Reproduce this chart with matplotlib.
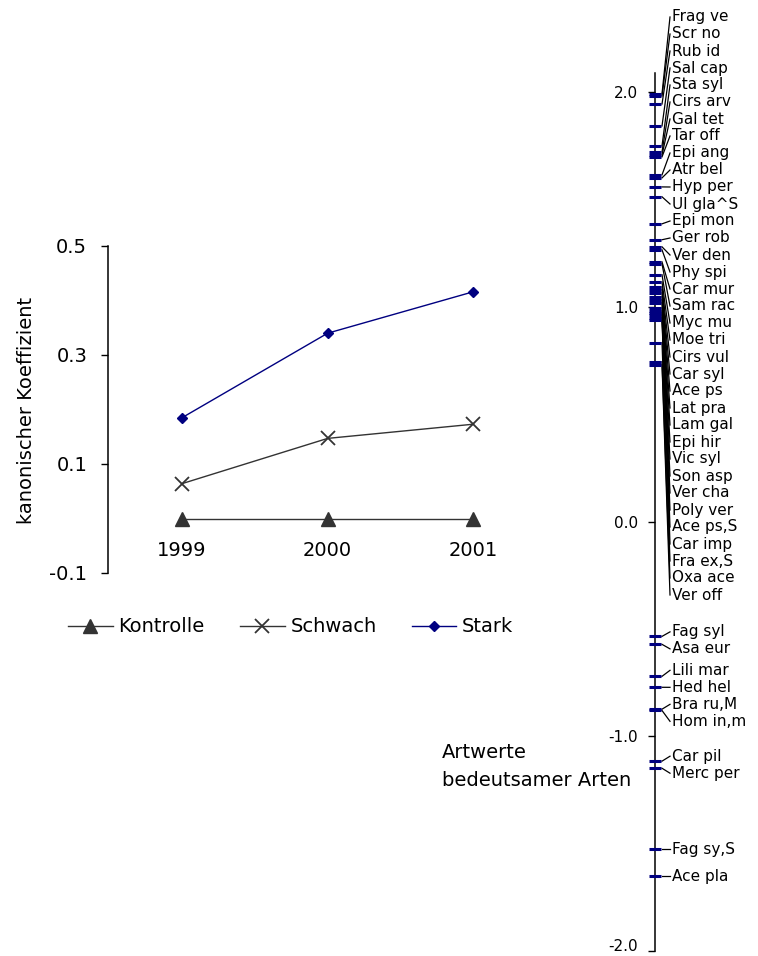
import numpy as np
import matplotlib
matplotlib.use('Agg')
import matplotlib.pyplot as plt
from matplotlib.transforms import ScaledTranslation

# ---------------- data ----------------
years = ['1999', '2000', '2001']
kontrolle = [0.0, 0.0, 0.0]
schwach = [0.064, 0.147, 0.173]
stark = [0.185, 0.340, 0.416]

left_yticks = [0.5, 0.3, 0.1, -0.1]
left_yticklabels = ['0.5', '0.3', '0.1', '-0.1']

species = ['Frag ve', 'Scr no', 'Rub id', 'Sal cap', 'Sta syl', 'Cirs arv', 'Gal tet',
           'Tar off', 'Epi ang', 'Atr bel', 'Hyp per', 'Ul gla^S', 'Epi mon', 'Ger rob',
           'Ver den', 'Phy spi', 'Car mur', 'Sam rac', 'Myc mu', 'Moe tri', 'Cirs vul',
           'Car syl', 'Ace ps', 'Lat pra', 'Lam gal', 'Epi hir', 'Vic syl', 'Son asp',
           'Ver cha', 'Poly ver', 'Ace ps,S', 'Car imp', 'Fra ex,S', 'Oxa ace', 'Ver off',
           'Fag syl', 'Asa eur', 'Lili mar', 'Hed hel', 'Bra ru,M', 'Hom in,m',
           'Car pil', 'Merc per', 'Fag sy,S', 'Ace pla']
scores = [1.991, 1.981, 1.944, 1.842, 1.749, 1.721, 1.707, 1.698, 1.614, 1.600,
          1.558, 1.512, 1.386, 1.312, 1.279, 1.265, 1.209, 1.200, 1.149, 1.116,
          1.093, 1.079, 1.065, 1.047, 1.033, 1.019, 0.995, 0.981, 0.972, 0.963,
          0.949, 0.940, 0.833, 0.744, 0.730,
          -0.535, -0.572, -0.721, -0.772, -0.874, -0.880,
          -1.116, -1.149, -1.526, -1.651]

right_yticks = [2.0, 1.0, 0.0, -1.0, -2.0]
right_yticklabels = ['2.0', '1.0', '0.0', '-1.0', '-2.0']

# ---------------- figure ----------------
plt.rcParams['font.family'] = ['DejaVu Sans']
W, H = 758, 956
fig = plt.figure(figsize=(W / 100, H / 100), dpi=100)


def fx(px):
    return px / W


def fy(py):
    return 1 - py / H


GRAY = '#333333'
NAVY = '#000080'

# left panel
ax = fig.add_axes([fx(108), fy(573), fx(546) - fx(108), fy(246) - fy(573)])
x = np.arange(len(years))
ax.plot(x, kontrolle, color=GRAY, lw=1.0, marker='^', ms=9.5, label='Kontrolle', clip_on=False)
ax.plot(x, schwach, color=GRAY, lw=1.0, marker='x', ms=9.5, mew=1.3, label='Schwach', clip_on=False)
ax.plot(x, stark, color=NAVY, lw=1.0, marker='D', ms=5.5, label='Stark', clip_on=False)
ax.set_xlim(-0.509, 2.5)
ax.set_ylim(-0.1, 0.5)
ax.set_yticks(left_yticks)
ax.set_yticklabels(left_yticklabels)
ax.tick_params(axis='y', direction='out', length=5, width=1.0, pad=10, labelsize=14)
for s in ['top', 'right']:
    ax.spines[s].set_visible(False)
ax.spines['left'].set_linewidth(1.1)
ax.spines['bottom'].set_position(('data', 0))
ax.spines['bottom'].set_color('none')
ax.set_xticks(x)
ax.set_xticklabels(years)
ax.tick_params(axis='x', length=0, pad=16.5, labelsize=14)
ax.patch.set_visible(False)

fig.text(fx(27), fy(410), 'kanonischer Koeffizient', rotation=90, ha='center', va='center',
         fontsize=14)

fig.legend(loc='center left', bbox_to_anchor=(fx(68), fy(627)), ncol=3, frameon=False,
           fontsize=14, handlelength=2.3, handletextpad=0.3, columnspacing=1.8,
           borderpad=0, borderaxespad=0)

fig.text(fx(442), fy(752), 'Artwerte', ha='left', va='center', fontsize=14)
fig.text(fx(442), fy(780), 'bedeutsamer Arten', ha='left', va='center', fontsize=14)

# right panel
ax2 = fig.add_axes([fx(655), fy(951), fx(758) - fx(655), fy(73) - fy(951)])
ax2.set_xlim(0, 1)
px_per_unit = (951 - 92) / 4.0
ymin, ymax = -2.0, -2.0 + (951 - 73) / px_per_unit
ax2.set_ylim(ymin, ymax)
for s in ['top', 'right', 'bottom']:
    ax2.spines[s].set_visible(False)
ax2.spines['left'].set_linewidth(1.1)
ax2.set_xticks([])
ax2.set_yticks(right_yticks)
ax2.set_yticklabels(right_yticklabels)
ax2.tick_params(axis='y', direction='out', length=5, width=1.0, pad=7, labelsize=11)
ax2.patch.set_visible(False)
# lift the lowest tick label a little so it stays inside the figure
for lab in ax2.get_yticklabels():
    if lab.get_text() == '-2.0':
        lab.set_transform(lab.get_transform() + ScaledTranslation(0, 6 / 100, fig.dpi_scale_trans))

vals = np.array(scores, dtype=float)
ax2.plot(np.zeros(len(vals)), vals, ls='none', marker='_', ms=9, mew=2.2, color=NAVY,
         clip_on=False, zorder=3)

# label placement: spread labels with a minimum gap (isotonic regression)
gap = 17.0 / px_per_unit
upper = 2.0 + (92 - 17) / px_per_unit
order = np.argsort(-vals, kind='stable')
n = len(vals)
t = vals[order] + np.arange(n) * gap
blocks = []
for v in t:
    blocks.append([v, 1])
    while len(blocks) > 1 and blocks[-2][0] / blocks[-2][1] < blocks[-1][0] / blocks[-1][1]:
        s2, c2 = blocks.pop()
        blocks[-1][0] += s2
        blocks[-1][1] += c2
q = np.concatenate([[b[0] / b[1]] * b[1] for b in blocks])
q = np.minimum(q, upper)
p = q - np.arange(n) * gap
pos = np.empty(n)
pos[order] = p

x_mark_end = 7 / 103
x_line_end = 15 / 103
x_text = 17 / 103
for name, v, yp in zip(species, vals, pos):
    ax2.plot([x_mark_end, x_line_end], [v, yp], color='black', lw=0.9, clip_on=False, zorder=2)
    ax2.text(x_text, yp, name, ha='left', va='center', fontsize=11, clip_on=False)

fig.savefig('out.png', dpi=100)
